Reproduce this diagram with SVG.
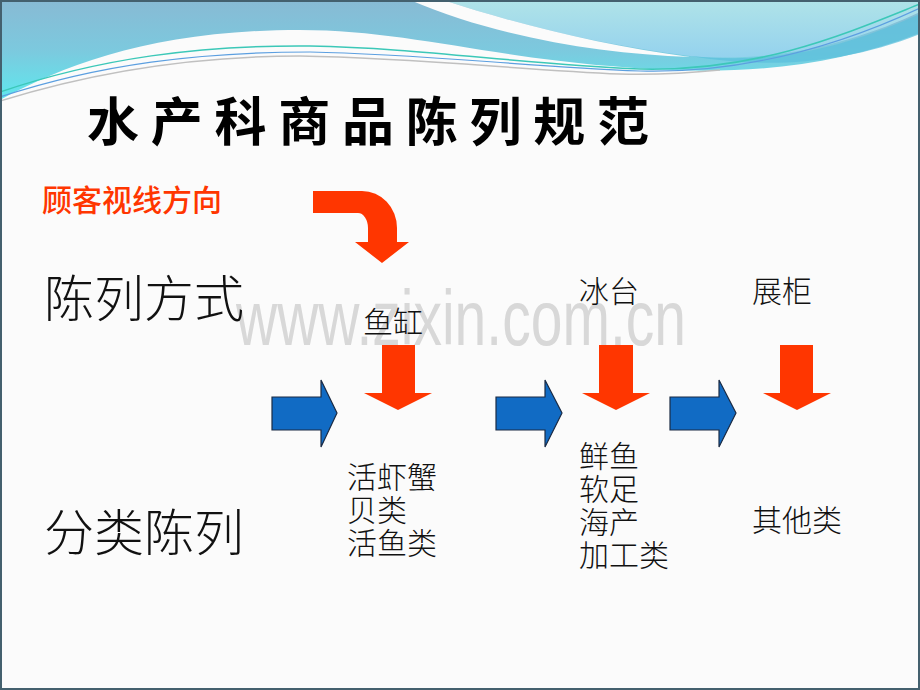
<svg xmlns="http://www.w3.org/2000/svg" width="920" height="690" viewBox="0 0 920 690">
<defs>
<linearGradient id="gLeft" x1="0" y1="0" x2="0" y2="1">
<stop offset="0" stop-color="#88bad4"/>
<stop offset="0.5" stop-color="#7cc9de"/>
<stop offset="1" stop-color="#5ee8ee"/>
</linearGradient>
<linearGradient id="gRight" x1="0" y1="0" x2="0" y2="1">
<stop offset="0" stop-color="#b0e3e8"/>
<stop offset="1" stop-color="#94d2ee"/>
</linearGradient>
<style>
.cj{font-family:"Noto Sans CJK SC","Noto Sans CJK JP",sans-serif;}
.lbl{font-size:30px;fill:#111;font-weight:300;}
.big{font-size:50px;fill:#111;font-weight:300;}
.red{fill:#ff3600;}
.blue{fill:#116bc4;stroke:#1b2b44;stroke-width:1.2;}
</style>
</defs>
<rect x="0" y="0" width="920" height="690" fill="#fbfbfb"/>
<g id="banner">
<path d="M0,0 H920 V33 C820,72 720,76 610,66 C480,55 400,30 300,30 C160,30 70,62 0,100 Z" fill="url(#gLeft)"/>
<path d="M443,0 C520,25 600,45 690,56 C780,64 860,40 920,12 V0 Z" fill="url(#gRight)"/>
<path d="M690,56 C790,66 860,40 920,14 V34 C840,66 760,68 690,56 Z" fill="#5cc0dc" opacity="0.75"/>
<path d="M410,0 C500,38 600,54 690,57 C600,45 520,25 443,0 Z" fill="#fbfbfb"/>
<path d="M0,92 C100,58 200,45 310,46 C420,48 520,64 640,69 C760,72 850,32 920,4" fill="none" stroke="#3cc8b8" stroke-width="1.5"/>
<path d="M0,97 C100,64 200,52 310,52 C420,54 520,66 640,71 C760,74 860,36 920,8" fill="none" stroke="#5c9fe0" stroke-width="1.2"/>
<path d="M0,101 C100,70 200,56 300,56 C420,58 520,70 620,74 C660,75 700,72 720,70" fill="none" stroke="#c0c0c0" stroke-width="1.5"/>
</g>
<text x="236" y="345" font-family="'Liberation Sans',Arial,sans-serif" font-size="77" fill="#d8d8d8" textLength="450" lengthAdjust="spacingAndGlyphs">www.zixin.com.cn</text>
<g id="title"><text class="cj" x="87" y="141" font-size="52" font-weight="700" fill="#000" textLength="562" lengthAdjust="spacing">水产科商品陈列规范</text></g>
<g id="sight"><text class="cj" x="42" y="211" font-size="30" font-weight="500" fill="#ff3600" textLength="180" lengthAdjust="spacing">顾客视线方向</text></g>
<g id="row1"><text class="cj big" x="44" y="317" textLength="200" lengthAdjust="spacing">陈列方式</text></g>
<g id="row2"><text class="cj big" x="44" y="551" textLength="200" lengthAdjust="spacing">分类陈列</text></g>
<g id="fishtank"><text class="cj lbl" x="363" y="333">鱼缸</text></g>
<g id="icetable"><text class="cj lbl" x="579" y="302">冰台</text></g>
<g id="cabinet"><text class="cj lbl" x="752" y="302">展柜</text></g>
<g id="cat1">
<text class="cj lbl" x="347" y="488">活虾蟹</text>
<text class="cj lbl" x="347" y="521">贝类</text>
<text class="cj lbl" x="347" y="554">活鱼类</text>
</g>
<g id="cat2">
<text class="cj lbl" x="579" y="467">鲜鱼</text>
<text class="cj lbl" x="579" y="500">软足</text>
<text class="cj lbl" x="579" y="533">海产</text>
<text class="cj lbl" x="579" y="566">加工类</text>
</g>
<g id="cat3"><text class="cj lbl" x="752" y="531">其他类</text></g>
<g id="connectors">
<path class="red" d="M313,191 H362 A35,37 0 0 1 397,228 V242 H409 L382,263 L355,242 H368 V228 A10,15 0 0 0 358,213 H313 Z"/>
<path class="red" d="M382,345 H415 V393 H432 L398,410 L364,393 H382 Z"/>
<path class="red" d="M599,345 H633 V393 H650 L616,410 L582,393 H599 Z"/>
<path class="red" d="M780,345 H813 V393 H831 L797,410 L763,393 H780 Z"/>
<path class="blue" d="M272,397 H321 V380 L337,413 L321,447 V430 H272 Z"/>
<path class="blue" d="M496,397 H545 V380 L562,413 L545,447 V430 H496 Z"/>
<path class="blue" d="M670,397 H719 V380 L736,413 L719,447 V430 H670 Z"/>
</g>
<rect x="1" y="1" width="918" height="688" fill="none" stroke="#44606e" stroke-width="2"/>
</svg>
